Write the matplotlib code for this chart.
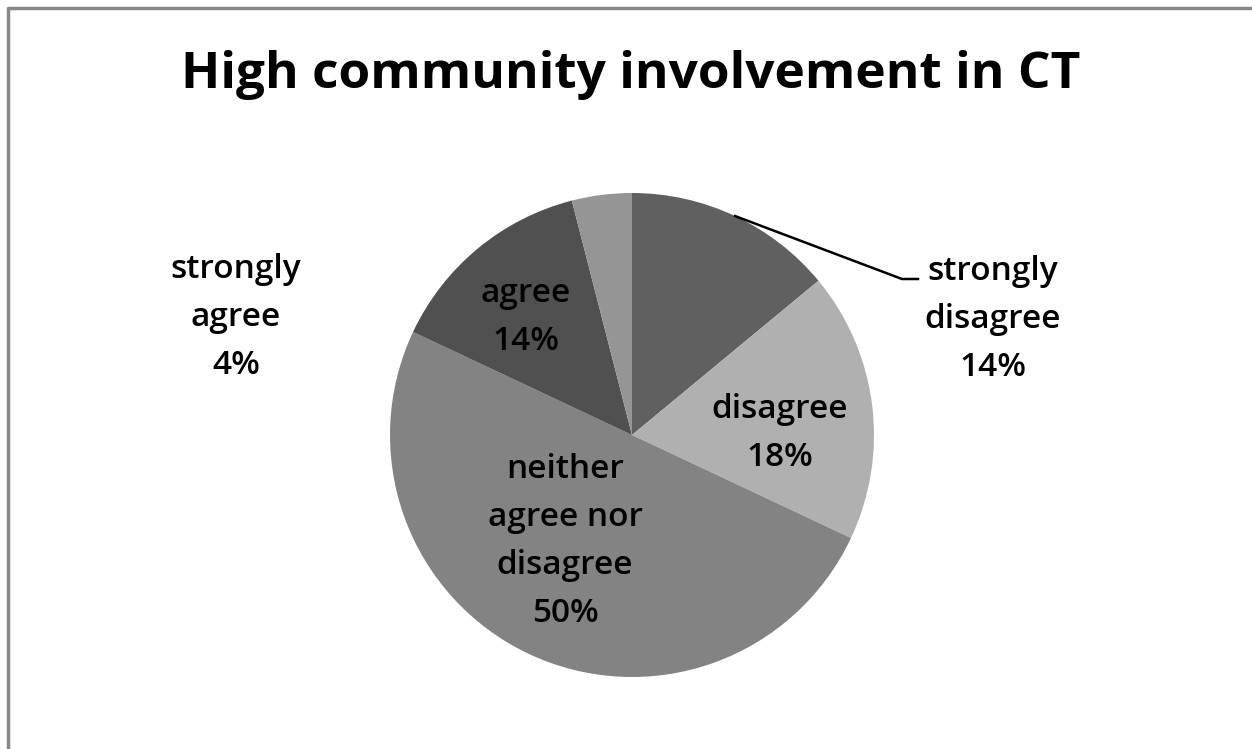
import matplotlib.pyplot as plt
import numpy as np

# survey answers, clockwise from 12 o'clock
labels = ['strongly\ndisagree', 'disagree', 'neither\nagree nor\ndisagree', 'agree', 'strongly\nagree']
shares = [14, 18, 50, 14, 4]
colors = ['#606060', '#b0b0b0', '#838383', '#505050', '#959595']

W, H = 1252, 749
fig = plt.figure(figsize=(W / 100, H / 100), dpi=100)
ax = fig.add_axes([0, 0, 1, 1])

cx, cy, r = 632, H - 435, 242
wedges, _ = ax.pie(shares, colors=colors, startangle=90, counterclock=False,
                   center=(cx, cy), radius=r, wedgeprops=dict(linewidth=0))
ax.set_xlim(0, W)
ax.set_ylim(0, H)
ax.set_aspect('equal')
ax.axis('off')

font = ['Open Sans', 'DejaVu Sans']

# label anchor points (pixels from top-left)
label_xy = [(993, 320), (780, 433), (565, 542), (526, 318), (236, 318)]
for name, val, (x, y) in zip(labels, shares, label_xy):
    ax.text(x, H - y, f'{name}\n{val}%', ha='center', va='center', fontsize=24,
            family=font, fontweight='semibold', linespacing=1.6, color='black')

# leader line for the first slice
w = wedges[0]
mid = np.deg2rad((w.theta1 + w.theta2) / 2)
x0, y0 = cx + r * np.cos(mid), cy + r * np.sin(mid)
ax.plot([x0, 902, 918], [y0, H - 279, H - 279], color='black', lw=1.8)

ax.text(631, H - 75, 'High community involvement in CT', ha='center', va='center',
        fontsize=37, fontweight='bold', family=font)

# chart area border (left and top edges visible)
ax.plot([8, 8, W], [0, H - 8, H - 8], color='#888888', lw=2.5, solid_capstyle='butt')

fig.savefig('out.png', dpi=100)
